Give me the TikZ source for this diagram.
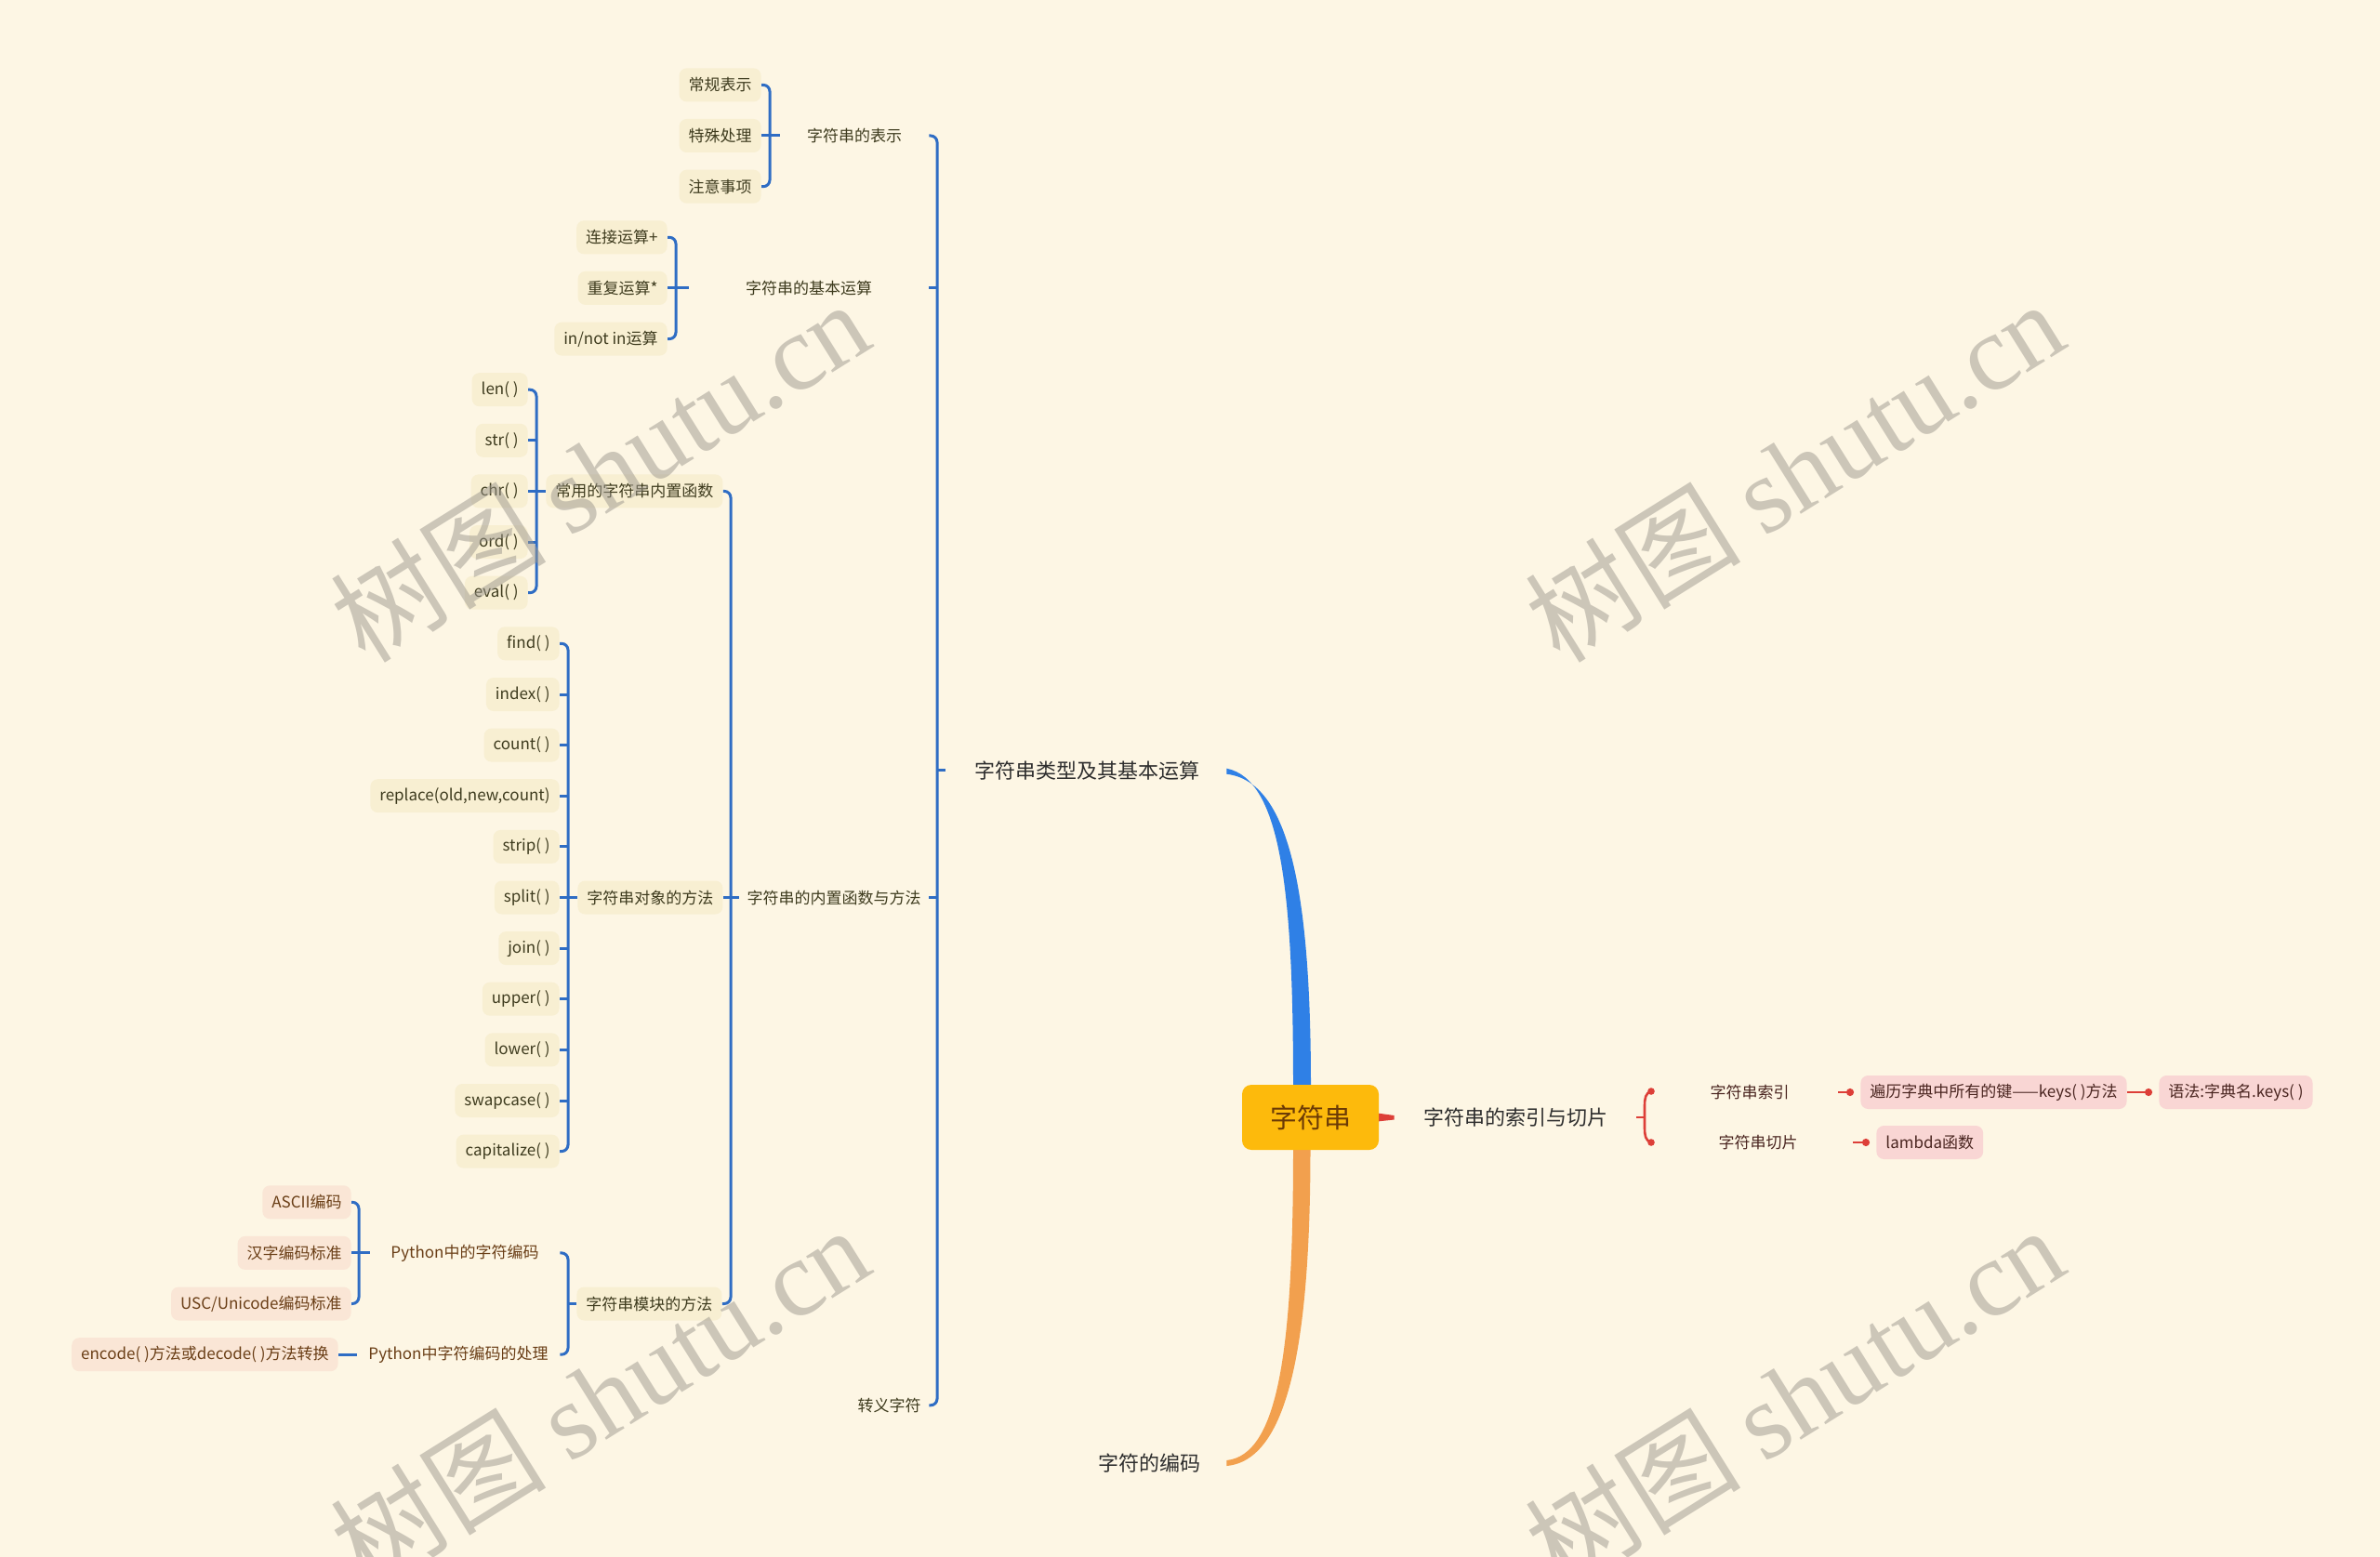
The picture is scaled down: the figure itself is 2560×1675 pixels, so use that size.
\documentclass[tikz,border=0pt]{standalone}
\usepackage{fontspec}
\newfontfamily\cjk{Noto Sans CJK SC}
\newfontfamily\wmser{Liberation Serif}
\usetikzlibrary{arrows.meta,calc}
\definecolor{bgc}{HTML}{FDF6E4}
\definecolor{boxY}{HTML}{F8EFD2}
\definecolor{boxP}{HTML}{FAE6D6}
\definecolor{boxR}{HTML}{F9D6D4}
\definecolor{txtO}{HTML}{3E3B1E}
\definecolor{txtB}{HTML}{6A3E16}
\definecolor{txtR}{HTML}{4A2520}
\definecolor{txtD}{HTML}{2E2E2E}
\definecolor{brB}{HTML}{2F6DC4}
\definecolor{bigB}{HTML}{2F80E6}
\definecolor{orng}{HTML}{F2A04E}
\definecolor{redc}{HTML}{DD3F38}
\definecolor{rootc}{HTML}{FDBA0C}
\definecolor{roottxt}{HTML}{6B3A06}
\definecolor{wmc}{HTML}{9C978E}
\pgfdeclarelayer{bgl}
\pgfsetlayers{bgl,main}
\newcommand\sfnt{\cjk\fontsize{8.5pt}{10pt}\selectfont}
\newcommand\bfnt{\cjk\fontsize{11pt}{13pt}\selectfont}
\begin{document}
\begin{tikzpicture}[x=0.5pt,y=-0.5pt,
 leaf/.style={fill=boxY, rounded corners=4pt, inner xsep=5pt, inner ysep=0pt, minimum height=18pt, text=txtO, font=\sfnt, anchor=east},
 eleaf/.style={leaf, fill=boxP, text=txtB},
 rleaf/.style={leaf, fill=boxR, text=txtR, anchor=west},
 lbl/.style={inner sep=0pt, text=txtO, font=\sfnt},
 elbl/.style={lbl, text=txtB},
 big/.style={inner sep=0pt, text=txtD, font=\bfnt},
 br/.style={draw=brB, line width=1.5pt, rounded corners=3.5pt},
 rdl/.style={draw=redc, line width=1.3pt},
 dotl/.style={rdl, -{Circle[length=4pt]}, shorten >=3.5pt},
 wm/.style={text=wmc, opacity=0.5, rotate=32, inner sep=0pt, font=\fontsize{58pt}{62pt}\selectfont}
]
\useasboundingbox (0,0) rectangle (2560,1675);

% ---------- root and main branches ----------
\node[fill=rootc, rounded corners=5pt, minimum width=73.5pt, minimum height=35pt, text=roottxt, font=\cjk\fontsize{14.5pt}{16pt}\selectfont, inner sep=0pt] (root) at (1409.5,1202) {字符串};
\node[big, minimum width=152pt] (main) at (1169,828.7) {字符串类型及其基本运算};
\node[big, minimum width=83pt] (encm) at (1236,1574) {字符的编码};
\node[big, minimum width=130pt] (idx) at (1630,1202) {字符串的索引与切片};

% ---------- level 1 ----------
\node[lbl, minimum width=80pt] (rep) at (919,146.0) {字符串的表示};
\node[lbl, minimum width=129pt] (op) at (870,309.9) {字符串的基本运算};
\node[lbl, minimum width=102pt] (bi) at (897,965.5) {字符串的内置函数与方法};
\node[lbl, minimum width=42.5pt] (esc) at (956.5,1511.8) {转义字符};

% ---------- 字符串的表示 ----------
\node[leaf] (a1) at (819,91.4) {常规表示};
\node[leaf] (a2) at (819,146.0) {特殊处理};
\node[leaf] (a3) at (819,200.7) {注意事项};
\coordinate (bA) at (828,146.0);
\draw[br] (a1.east) -- (a1.east -| bA) -- (a3.east -| bA) -- (a3.east);
\draw[br] (a2.east) -- (rep.west);

% ---------- 字符串的基本运算 ----------
\node[leaf] (b1) at (718,255.3) {连接运算+};
\node[leaf] (b2) at (718,309.9) {重复运算*};
\node[leaf] (b3) at (718,364.6) {in/not in运算};
\coordinate (bB) at (727,309.9);
\draw[br] (b1.east) -- (b1.east -| bB) -- (b3.east -| bB) -- (b3.east);
\draw[br] (b2.east) -- (op.west);

% ---------- 常用的字符串内置函数 ----------
\node[leaf] (c1) at (568,419.2) {len( )};
\node[leaf] (c2) at (568,473.8) {str( )};
\node[leaf] (c3) at (568,528.4) {chr( )};
\node[leaf] (c4) at (568,583.1) {ord( )};
\node[leaf] (c5) at (568,637.7) {eval( )};
\node[leaf, anchor=west] (fn) at (587,528.4) {常用的字符串内置函数};
\coordinate (bC) at (577,528.4);
\draw[br] (c1.east) -- (c1.east -| bC) -- (c5.east -| bC) -- (c5.east);
\draw[br] (c2.east) -- (c2.east -| bC);
\draw[br] (c4.east) -- (c4.east -| bC);
\draw[br] (c3.east) -- (fn.west);

% ---------- 字符串对象的方法 ----------
\node[leaf] (d1) at (602,692.3) {find( )};
\node[leaf] (d2) at (602,747.0) {index( )};
\node[leaf] (d3) at (602,801.6) {count( )};
\node[leaf] (d4) at (602,856.2) {replace(old,new,count)};
\node[leaf] (d5) at (602,910.9) {strip( )};
\node[leaf] (d6) at (602,965.5) {split( )};
\node[leaf] (d7) at (602,1020.1) {join( )};
\node[leaf] (d8) at (602,1074.7) {upper( )};
\node[leaf] (d9) at (602,1129.4) {lower( )};
\node[leaf] (d10) at (602,1184.0) {swapcase( )};
\node[leaf] (d11) at (602,1238.6) {capitalize( )};
\node[leaf, anchor=west] (obj) at (621,965.5) {字符串对象的方法};
\coordinate (bD) at (611,965.5);
\draw[br] (d1.east) -- (d1.east -| bD) -- (d11.east -| bD) -- (d11.east);
\foreach \n in {d2,d3,d4,d5,d7,d8,d9,d10} \draw[br] (\n.east) -- (\n.east -| bD);
\draw[br] (d6.east) -- (obj.west);

% ---------- 编码 ----------
\node[eleaf] (e1) at (378,1293.3) {ASCII编码};
\node[eleaf] (e2) at (378,1347.9) {汉字编码标准};
\node[eleaf] (e3) at (378,1402.5) {USC/Unicode编码标准};
\node[elbl, minimum width=102pt] (pyenc) at (500,1347.9) {Python中的字符编码};
\coordinate (bE) at (386,1347.9);
\draw[br] (e1.east) -- (e1.east -| bE) -- (e3.east -| bE) -- (e3.east);
\draw[br] (e2.east) -- (pyenc.west);
\node[eleaf] (f1) at (364,1457.2) {encode( )方法或decode( )方法转换};
\node[elbl, minimum width=109pt] (pyproc) at (493,1457.2) {Python中字符编码的处理};
\draw[br] (f1.east) -- (pyproc.west);

% ---------- 字符串模块的方法 ----------
\node[leaf, anchor=west] (mod) at (620,1402.5) {字符串模块的方法};
\coordinate (bG) at (611,1402.5);
\draw[br] (pyenc.east) -- (pyenc.east -| bG) -- (pyproc.east -| bG) -- (pyproc.east);
\draw[br] (bG) -- (mod.west);

% ---------- 内置函数与方法 ----------
\coordinate (bBI) at (786,965.5);
\draw[br] (fn.east) -- (fn.east -| bBI) -- (mod.east -| bBI) -- (mod.east);
\draw[br] (obj.east) -- (bi.west);

% ---------- main bracket ----------
\coordinate (bM) at (1008,828.7);
\draw[br] (rep.east) -- (rep.east -| bM) -- (esc.east -| bM) -- (esc.east);
\draw[br] (op.east) -- (op.east -| bM);
\draw[br] (bi.east) -- (bi.east -| bM);
\draw[br] (bM) -- (main.west);

% ---------- right side ----------
\node[lbl, text=txtR, minimum width=95pt] (s1) at (1882,1175) {字符串索引};
\node[lbl, text=txtR, minimum width=102pt] (s2) at (1891,1229) {字符串切片};
\node[rleaf] (r1) at (2001,1175) {遍历字典中所有的键——keys( )方法};
\node[rleaf] (r2) at (2322,1175) {语法:字典名.keys( )};
\node[rleaf] (r3) at (2018,1229) {lambda函数};
\coordinate (rb) at (1770,1202);
\coordinate (rt) at (1776,1174);
\coordinate (rbo) at (1776,1229);
\draw[rdl] (idx.east) -- (rb);
\draw[rdl] (rt) .. controls (1770,1176) and (1769,1181) .. (1769,1190) -- (1769,1213) .. controls (1769,1222) and (1770,1227) .. (rbo);
\fill[redc] (rt) circle[radius=1.9pt];
\fill[redc] (rbo) circle[radius=1.9pt];
\draw[dotl] (s1.east) -- (r1.west);
\draw[dotl] (r1.east) -- (r2.west);
\draw[dotl] (s2.east) -- (r3.west);

% ---------- background layer: canvas and thick branches ----------
\begin{pgfonlayer}{bgl}
\fill[bgc] (0,0) rectangle (2560,1675);
\fill[bigB] ($(root.north)+(-18.5,2)$) .. controls ($(root.north)+(-18.5,-205)$) and ($(main.east)+(57,10)$) .. ($(main.east)+(-2,-2)$)
  -- ($(main.east)+(-2,4)$) .. controls ($(main.east)+(66,12)$) and ($(root.north)+(0.5,-205)$) .. ($(root.north)+(0.5,2)$) -- cycle;
\fill[orng] ($(root.south)+(-18.5,-2)$) .. controls ($(root.south)+(-18.5,213)$) and ($(encm.east)+(56,-9)$) .. ($(encm.east)+(0,-3)$)
  -- ($(encm.east)+(0,3)$) .. controls ($(encm.east)+(65,-3)$) and ($(root.south)+(0,213)$) .. ($(root.south)+(0,-2)$) -- cycle;
\fill[redc] ($(root.east)+(-2,-4.5)$) -- ($(idx.west)+(0,-2)$) -- ($(idx.west)+(0,2.5)$) -- ($(root.east)+(-2,4.5)$) -- cycle;
\end{pgfonlayer}

% ---------- watermarks ----------
\node[wm] (w1) at (645,506) {\cjk 树图 \wmser shutu.cn};
\node[wm] (w2) at (1930,506) {\cjk 树图 \wmser shutu.cn};
\node[wm] (w3) at (645,1502) {\cjk 树图 \wmser shutu.cn};
\node[wm] (w4) at (1930,1502) {\cjk 树图 \wmser shutu.cn};
\end{tikzpicture}
\end{document}
